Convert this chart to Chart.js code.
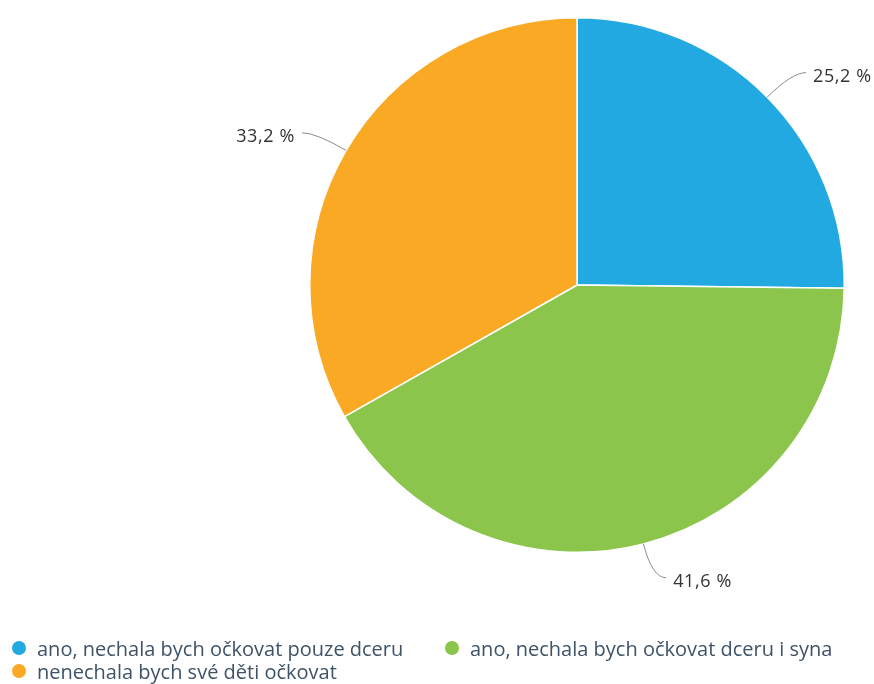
<!DOCTYPE html>
<html>
<head>
    <meta charset="utf-8">
    <title>Očkování dětí</title>
    <script src="https://cdn.jsdelivr.net/npm/chart.js@4.4.1/dist/chart.umd.min.js"></script>
    <style>
        html, body {
            margin: 0;
            padding: 0;
            background: #ffffff;
        }
        .chart-box {
            position: relative;
            width: 874px;
            height: 684px;
        }
    </style>
</head>
<body>
    <div class="chart-box">
        <canvas id="pieChart"></canvas>
    </div>

    <script>
        // data
        const categories = [
            'ano, nechala bych očkovat pouze dceru',
            'ano, nechala bych očkovat dceru i syna',
            'nenechala bych své děti očkovat'
        ];
        const values = [25.2, 41.6, 33.2];
        const colors = ['#22a9e1', '#8bc54b', '#f9a924'];

        const fontFamily = '"Open Sans", "DejaVu Sans", sans-serif';

        // popisky s hodnotami a spojovací čárou
        const sliceLabels = {
            id: 'sliceLabels',
            afterDatasetsDraw(chart) {
                const ctx = chart.ctx;
                const meta = chart.getDatasetMeta(0);
                ctx.save();
                ctx.font = '18px ' + fontFamily;
                ctx.letterSpacing = '0.6px';
                ctx.textBaseline = 'middle';
                meta.data.forEach((arc, i) => {
                    const mid = (arc.startAngle + arc.endAngle) / 2;
                    const r = arc.outerRadius;
                    const cx = arc.x, cy = arc.y;
                    const cos = Math.cos(mid), sin = Math.sin(mid);
                    const x0 = cx + cos * r, y0 = cy + sin * r;
                    const x1 = cx + cos * (r + 35), y1 = cy + sin * (r + 35);
                    const dir = cos >= 0 ? 1 : -1;
                    const x2 = x1 + dir * 14;
                    ctx.strokeStyle = '#8c8c8c';
                    ctx.lineWidth = 1;
                    ctx.beginPath();
                    ctx.moveTo(x0, y0);
                    ctx.quadraticCurveTo(x1, y1, x2, y1);
                    ctx.stroke();
                    ctx.fillStyle = '#333333';
                    ctx.textAlign = dir > 0 ? 'left' : 'right';
                    const txt = values[i].toFixed(1).replace('.', ',') + ' %';
                    ctx.fillText(txt, x2 + dir * 7, y1 + 4);
                });
                ctx.restore();
            }
        };

        // legenda ve dvou sloupcích
        const gridLegend = {
            id: 'gridLegend',
            afterDraw(chart) {
                const ctx = chart.ctx;
                const cols = [12, 445];
                const rows = [650, 673];
                ctx.save();
                ctx.font = '20px ' + fontFamily;
                ctx.textBaseline = 'middle';
                ctx.textAlign = 'left';
                categories.forEach((name, i) => {
                    const x = cols[i % 2], y = rows[Math.floor(i / 2)];
                    ctx.fillStyle = colors[i];
                    ctx.beginPath();
                    ctx.arc(x + 7, y - 2, 7, 0, Math.PI * 2);
                    ctx.fill();
                    ctx.fillStyle = '#3e5368';
                    ctx.fillText(name, x + 25, y);
                });
                ctx.restore();
            }
        };

        new Chart(document.getElementById('pieChart'), {
            type: 'pie',
            data: {
                labels: categories,
                datasets: [{
                    data: values,
                    backgroundColor: colors,
                    borderColor: '#ffffff',
                    borderWidth: 1.5
                }]
            },
            options: {
                responsive: true,
                maintainAspectRatio: false,
                animation: false,
                layout: {
                    padding: { left: 309, right: 29, top: 17, bottom: 131 }
                },
                plugins: {
                    legend: { display: false },
                    tooltip: { enabled: false }
                }
            },
            plugins: [sliceLabels, gridLegend]
        });
    </script>
</body>
</html>
